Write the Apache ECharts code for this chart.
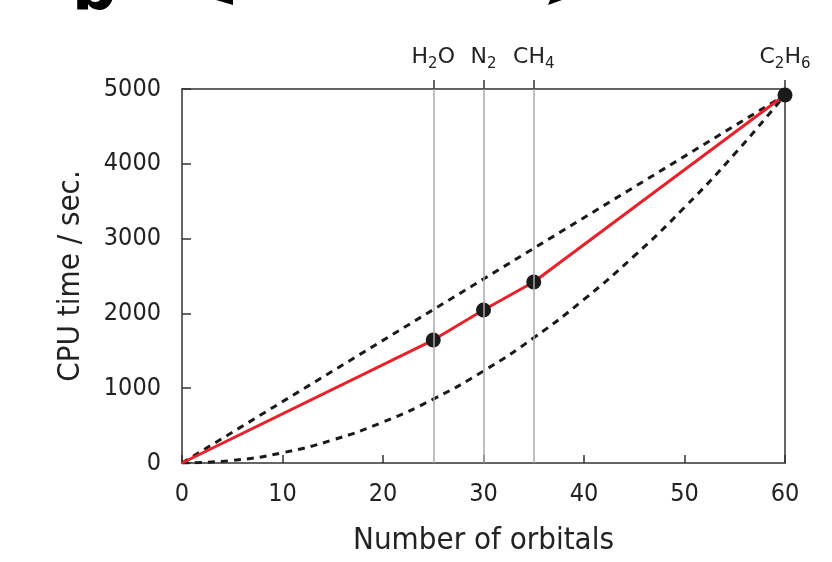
<!DOCTYPE html>
<html>
<head>
<meta charset="utf-8">
<script src="https://cdn.jsdelivr.net/npm/echarts@6/dist/echarts.min.js"></script>
<style>html,body{margin:0;padding:0;background:#fff;}#c{width:832px;height:562px;}</style>
</head>
<body>
<div id="c"></div>
<script>
// Data
const xTicks = [0, 10, 20, 30, 40, 50, 60];
const yTicks = [0, 1000, 2000, 3000, 4000, 5000];
const molecules = ['H2O', 'N2', 'CH4', 'C2H6'];
const moleculeOrbitals = [25, 30, 35, 60];
const cpuTime = [1644, 2045, 2420, 4920];
// measured (red) curve starts at origin
const measuredX = [0, 25, 30, 35, 60];
const measuredY = [0, 1644, 2045, 2420, 4920];
// upper dashed reference line
const linearX = [0, 60];
const linearY = [0, 4920];
// lower dashed reference curve
const quadX = [0, 5, 10, 15, 20, 25, 30, 35, 40, 45, 50, 55, 60];
const quadY = [0, 34, 137, 308, 547, 854, 1230, 1674, 2187, 2768, 3417, 4134, 4920];
const guideX = [25, 30, 35];

const zip = (xs, ys) => xs.map((x, i) => [x, ys[i]]);

const richLabels = {
  'H2O': '{n|H}{s|2}{n|O}',
  'N2': '{n|N}{s|2}',
  'CH4': '{n|CH}{s|4}',
  'C2H6': '{n|C}{s|2}{n|H}{s|6}'
};

const narrow = 'DejaVu Sans Condensed, DejaVu Sans, sans-serif';
const axisLineStyle = { color: '#333', width: 1.5 };

const chart = echarts.init(document.getElementById('c'), null, { renderer: 'canvas' });
chart.setOption({
  animation: false,
  backgroundColor: '#fff',
  grid: { left: 182, right: 47, top: 89, bottom: 99, containLabel: false },
  graphic: [
    { type: 'text', left: 72, top: -38, style: { text: 'b', fontSize: 62, fontWeight: 'bold', fontFamily: 'DejaVu Sans, sans-serif', fill: '#000' } },
    { type: 'polygon', shape: { points: [[216, 0], [233, 0], [233, 5]] }, style: { fill: '#000' } },
    { type: 'polygon', shape: { points: [[548, 5], [550, 0], [562, 0]] }, style: { fill: '#000' } }
  ],
  xAxis: [
    {
      type: 'value', position: 'bottom', min: 0, max: 60, interval: 10,
      name: 'Number of orbitals', nameLocation: 'middle', nameGap: 62,
      nameTextStyle: { fontSize: 31, fontFamily: narrow, color: '#222' },
      axisLine: { show: true, onZero: false, lineStyle: axisLineStyle },
      axisTick: { show: true, inside: true, length: 8, lineStyle: axisLineStyle },
      axisLabel: { fontSize: 25, fontFamily: narrow, color: '#222', margin: 19 },
      splitLine: { show: false }
    },
    {
      type: 'value', position: 'top', min: 0, max: 60,
      axisLine: { show: true, onZero: false, lineStyle: axisLineStyle },
      axisTick: { show: true, inside: false, length: 9, customValues: moleculeOrbitals, lineStyle: axisLineStyle },
      axisLabel: {
        show: true, margin: 17, customValues: moleculeOrbitals,
        formatter: (v) => richLabels[molecules[moleculeOrbitals.indexOf(v)]] || '',
        rich: {
          n: { fontSize: 22, fontFamily: 'DejaVu Sans, sans-serif', color: '#222', lineHeight: 26, verticalAlign: 'top' },
          s: { fontSize: 15, fontFamily: 'DejaVu Sans, sans-serif', color: '#222', lineHeight: 26, verticalAlign: 'bottom' }
        }
      },
      splitLine: { show: false }
    }
  ],
  yAxis: [
    {
      type: 'value', position: 'left', min: 0, max: 5000, interval: 1000,
      name: 'CPU time / sec.', nameLocation: 'middle', nameGap: 96, nameRotate: 90,
      nameTextStyle: { fontSize: 31, fontFamily: narrow, color: '#222' },
      axisLine: { show: true, onZero: false, lineStyle: axisLineStyle },
      axisTick: { show: true, inside: true, length: 9, lineStyle: axisLineStyle },
      axisLabel: { fontSize: 25, fontFamily: narrow, color: '#222', margin: 21, formatter: (v) => String(v) },
      splitLine: { show: false }
    },
    {
      type: 'value', position: 'right', min: 0, max: 5000,
      axisLine: { show: true, onZero: false, lineStyle: axisLineStyle },
      axisTick: { show: false }, axisLabel: { show: false }, splitLine: { show: false }
    }
  ],
  series: [
    {
      type: 'line', data: [], z: 1,
      markLine: {
        silent: true, symbol: 'none', label: { show: false },
        lineStyle: { color: '#aaa', width: 1.5, type: 'solid' },
        data: guideX.map(x => ({ xAxis: x }))
      }
    },
    {
      type: 'line', data: zip(linearX, linearY), showSymbol: false, z: 2,
      lineStyle: { color: '#1a1a1a', width: 3, type: [7, 6] }
    },
    {
      type: 'line', data: zip(quadX, quadY), showSymbol: false, smooth: true, z: 2,
      lineStyle: { color: '#1a1a1a', width: 3, type: [7, 6] }
    },
    {
      type: 'line', data: zip(measuredX, measuredY), showSymbol: false, z: 3,
      lineStyle: { color: '#e8212b', width: 3 }
    },
    {
      type: 'scatter', data: zip(moleculeOrbitals, cpuTime), symbolSize: 15, z: 4,
      itemStyle: { color: '#1a1a1a', opacity: 1 }
    }
  ]
});
</script>
</body>
</html>
